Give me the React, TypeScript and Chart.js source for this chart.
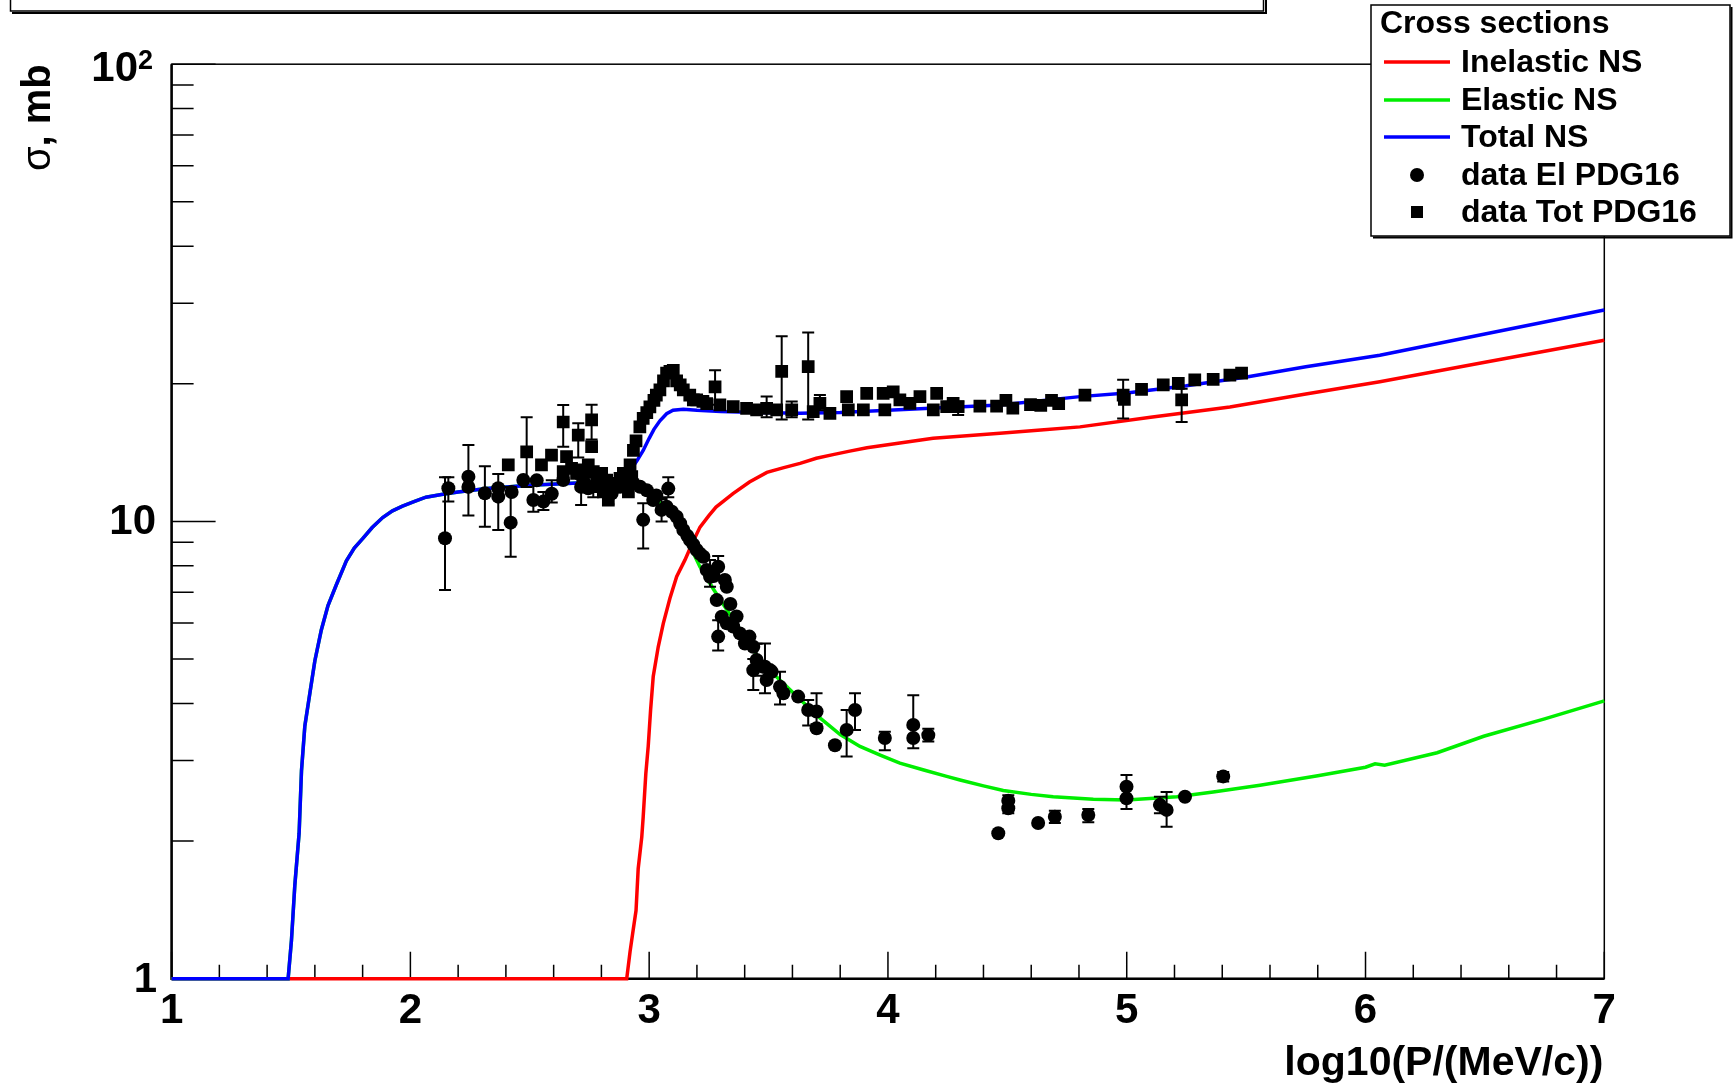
import React, { useEffect, useRef } from "react";
import { Chart, registerables } from "chart.js";

Chart.register(...registerables);

const W = 1736;
const H = 1089;
const FONT = "'Liberation Sans', Arial, Helvetica, sans-serif";

// ---- axis ranges and tick labels ----
const xMin = 1;
const xMax = 7;
const yMin = 1;
const yMax = 100;
const xMajorTicks = [1, 2, 3, 4, 5, 6, 7];
const xTickLabels = ["1", "2", "3", "4", "5", "6", "7"];
const yMajorTicks = [1, 10, 100];
const yMinorTicks = [2, 3, 4, 5, 6, 7, 8, 9, 20, 30, 40, 50, 60, 70, 80, 90];
const xTitle = "log10(P/(MeV/c))";
const yTitleSymbol = "σ";
const yTitleRest = ", mb";

// ---- legend ----
const legendTitle = "Cross sections";
const legendLabels = ["Inelastic NS", "Elastic NS", "Total NS", "data El PDG16", "data Tot PDG16"];

// ---- model curves ----
const inelX = [1.0, 2.906, 2.92, 2.933, 2.945, 2.954, 2.969, 2.975, 2.986, 2.996, 3.006, 3.017, 3.038, 3.059, 3.087, 3.115, 3.15, 3.18, 3.213, 3.25, 3.28, 3.351, 3.42, 3.493, 3.56, 3.632, 3.7, 3.77, 3.84, 3.912, 4.05, 4.189, 4.33, 4.469, 4.64, 4.804, 5.1, 5.432, 5.75, 6.06, 6.5, 7.0];
const inelY = [1, 1, 1.146, 1.278, 1.41, 1.74, 2.04, 2.26, 2.81, 3.22, 3.87, 4.58, 5.32, 5.98, 6.79, 7.57, 8.24, 8.95, 9.72, 10.3, 10.75, 11.5, 12.2, 12.8, 13.1, 13.4, 13.75, 14.0, 14.25, 14.5, 14.85, 15.2, 15.4, 15.6, 15.85, 16.1, 16.9, 17.8, 19.0, 20.2, 22.3, 24.9];

const totX = [1.0, 1.488, 1.502, 1.516, 1.534, 1.544, 1.558, 1.579, 1.6, 1.627, 1.655, 1.69, 1.732, 1.765, 1.801, 1.84, 1.884, 1.925, 1.967, 2.015, 2.065, 2.13, 2.2, 2.32, 2.5, 2.654, 2.8, 2.88, 2.92, 2.95, 2.975, 3.0, 3.02, 3.045, 3.073, 3.1, 3.143, 3.2, 3.3, 3.45, 3.632, 3.8, 4.0, 4.2, 4.469, 4.804, 5.0, 5.25, 5.502, 5.75, 6.06, 6.5, 7.0];
const totY = [1, 1, 1.215, 1.6, 2.08, 2.85, 3.57, 4.21, 4.96, 5.79, 6.55, 7.27, 8.2, 8.75, 9.18, 9.7, 10.2, 10.55, 10.8, 11.05, 11.3, 11.45, 11.6, 11.8, 12.0, 12.1, 12.2, 12.4, 12.9, 13.6, 14.3, 15.2, 15.9, 16.6, 17.2, 17.5, 17.6, 17.5, 17.4, 17.3, 17.24, 17.3, 17.5, 17.7, 17.98, 18.75, 19.1, 19.8, 20.7, 21.8, 23.1, 25.7, 29.0];

const elasX = [1.0, 1.488, 1.502, 1.516, 1.534, 1.544, 1.558, 1.579, 1.6, 1.627, 1.655, 1.69, 1.732, 1.765, 1.801, 1.84, 1.884, 1.925, 1.967, 2.015, 2.065, 2.13, 2.2, 2.32, 2.5, 2.654, 2.8, 2.88, 2.92, 2.95, 2.975, 3.003, 3.05, 3.1, 3.15, 3.213, 3.27, 3.326, 3.4, 3.464, 3.532, 3.577, 3.65, 3.715, 3.8, 3.883, 3.97, 4.05, 4.15, 4.246, 4.302, 4.4, 4.483, 4.6, 4.692, 4.86, 4.999, 5.21, 5.362, 5.558, 5.8, 6.0, 6.04, 6.08, 6.3, 6.495, 6.75, 7.0];
const elasY = [1, 1, 1.215, 1.6, 2.08, 2.85, 3.57, 4.21, 4.96, 5.79, 6.55, 7.27, 8.2, 8.75, 9.18, 9.7, 10.2, 10.55, 10.8, 11.05, 11.3, 11.45, 11.6, 11.8, 12.0, 12.1, 12.2, 12.3, 12.2, 12.1, 11.9, 11.7, 10.9, 10.3, 9.3, 7.95, 7.1, 6.4, 5.6, 4.98, 4.58, 4.35, 4.0, 3.72, 3.42, 3.22, 3.08, 2.96, 2.86, 2.77, 2.72, 2.64, 2.58, 2.53, 2.5, 2.47, 2.46, 2.5, 2.56, 2.65, 2.78, 2.9, 2.95, 2.93, 3.12, 3.39, 3.7, 4.05];

// ---- elastic data (circles): value, error-bar top, error-bar bottom ----
const elDataX = [2.145, 2.159, 2.243, 2.243, 2.312, 2.368, 2.368, 2.42, 2.424, 2.473, 2.515, 2.529, 2.557, 2.592, 2.64, 2.715, 2.724, 2.745, 2.78, 2.822, 2.843, 2.878, 2.906, 2.934, 2.962, 2.975, 2.99, 3.017, 3.03, 3.052, 3.073, 3.08, 3.095, 3.115, 3.13, 3.143, 3.16, 3.171, 3.185, 3.199, 3.213, 3.227, 3.241, 3.255, 3.27, 3.289, 3.283, 3.289, 3.304, 3.317, 3.325, 3.325, 3.34, 3.352, 3.366, 3.38, 3.401, 3.42, 3.436, 3.45, 3.436, 3.478, 3.485, 3.492, 3.506, 3.513, 3.548, 3.562, 3.624, 3.666, 3.701, 3.701, 3.778, 3.827, 3.862, 3.987, 4.106, 4.106, 4.169, 4.462, 4.504, 4.504, 4.629, 4.699, 4.839, 4.999, 4.999, 5.139, 5.167, 5.244, 5.404];
const elDataY = [9.19, 11.82, 12.53, 11.9, 11.52, 11.82, 11.33, 9.94, 11.6, 12.32, 11.14, 12.3, 11.05, 11.5, 12.32, 11.9, 12.32, 11.82, 12.12, 11.82, 11.52, 11.91, 12.0, 12.12, 11.91, 10.08, 11.7, 11.14, 11.4, 10.6, 10.77, 11.8, 10.5, 10.24, 9.9, 9.58, 9.3, 9.11, 8.9, 8.66, 8.5, 8.37, 7.83, 7.57, 7.6, 7.96, 6.73, 5.6, 6.19, 7.45, 7.2, 5.99, 6.6, 5.89, 6.2, 5.69, 5.41, 5.6, 5.32, 4.98, 4.73, 4.81, 4.81, 4.5, 4.73, 4.69, 4.35, 4.21, 4.14, 3.87, 3.84, 3.53, 3.24, 3.5, 3.87, 3.36, 3.59, 3.36, 3.41, 2.08, 2.45, 2.36, 2.19, 2.26, 2.28, 2.63, 2.48, 2.4, 2.34, 2.5, 2.77];
const elErrHi = [12.5, 12.5, 14.7, null, 13.2, 12.7, null, 11.9, null, null, 12.3, null, 11.6, 12.3, null, 12.4, null, null, null, null, null, null, null, null, null, 10.96, null, null, null, 11.2, null, 12.5, null, null, null, null, null, null, null, null, null, null, null, 8.24, null, 8.4, null, 6.08, null, null, null, null, null, null, null, null, null, null, null, 5.4, 5.0, null, 5.41, null, null, null, 4.69, null, null, 4.07, 4.21, null, null, 3.87, 4.21, 3.47, 4.17, null, 3.52, null, 2.52, null, null, 2.33, 2.35, 2.79, 2.6, 2.5, 2.56, null, 2.83];
const elErrLo = [7.08, 11.05, 10.3, null, 9.74, 9.58, null, 8.37, null, null, 10.5, null, 10.6, 11.0, null, 10.87, null, null, null, null, null, null, null, null, null, 8.73, null, null, null, 10.0, null, 11.3, null, null, null, null, null, null, null, null, null, null, null, 7.2, null, 7.6, null, 5.22, null, null, null, null, null, null, null, null, null, null, null, 4.6, 4.28, null, 4.21, null, null, null, 3.98, null, null, 3.58, 3.6, null, null, 3.06, 3.5, 3.16, 3.19, null, 3.3, null, 2.3, null, null, 2.19, 2.2, 2.5, 2.35, 2.3, 2.15, null, 2.7];

// ---- total data (squares): value, error-bar top, error-bar bottom ----
const totDataX = [2.41, 2.487, 2.549, 2.591, 2.64, 2.654, 2.64, 2.675, 2.696, 2.703, 2.724, 2.745, 2.759, 2.759, 2.766, 2.766, 2.78, 2.801, 2.808, 2.822, 2.829, 2.843, 2.864, 2.878, 2.892, 2.906, 2.913, 2.92, 2.927, 2.934, 2.945, 2.961, 2.975, 2.99, 3.003, 3.02, 3.03, 3.045, 3.06, 3.073, 3.087, 3.101, 3.115, 3.13, 3.143, 3.17, 3.185, 3.199, 3.225, 3.241, 3.276, 3.296, 3.352, 3.408, 3.45, 3.492, 3.534, 3.555, 3.597, 3.666, 3.687, 3.715, 3.757, 3.827, 3.834, 3.897, 3.911, 3.98, 3.987, 4.022, 4.05, 4.092, 4.134, 4.19, 4.204, 4.246, 4.273, 4.294, 4.385, 4.455, 4.494, 4.523, 4.597, 4.64, 4.685, 4.715, 4.825, 4.985, 4.99, 5.062, 5.153, 5.216, 5.23, 5.285, 5.362, 5.432, 5.481];
const totDataY = [13.3, 14.2, 13.3, 13.97, 16.5, 13.86, 12.85, 13.07, 12.74, 15.45, 12.96, 13.29, 16.67, 14.57, 12.85, 11.91, 12.53, 12.74, 11.6, 12.32, 11.14, 11.91, 12.12, 12.43, 12.74, 12.64, 11.6, 13.3, 12.53, 14.3, 15.0, 16.1, 16.8, 17.3, 17.8, 18.4, 18.9, 19.4, 20.3, 21.1, 21.3, 21.4, 20.3, 19.9, 19.4, 18.9, 18.44, 18.45, 18.3, 18.1, 19.7, 17.98, 17.82, 17.68, 17.53, 17.68, 17.53, 21.3, 17.53, 21.8, 17.38, 18.13, 17.24, 18.75, 17.53, 17.53, 19.06, 19.06, 17.53, 19.2, 18.44, 18.13, 18.75, 17.53, 19.06, 17.82, 18.13, 17.82, 17.88, 17.88, 18.4, 17.7, 18.0, 17.95, 18.4, 18.1, 18.9, 18.9, 18.5, 19.45, 19.9, 20.05, 18.44, 20.4, 20.45, 20.9, 21.1];
const totErrHi = [null, 16.9, null, null, 17.98, null, null, null, null, 16.4, null, null, 18.0, null, null, 12.5, null, null, null, null, 11.6, null, null, null, null, null, null, null, null, null, null, null, null, null, null, null, null, null, null, null, null, null, null, null, null, null, null, null, null, null, 21.4, null, null, null, null, 18.75, null, 25.4, 18.3, 25.9, null, 18.9, null, null, null, null, null, null, null, null, null, null, null, null, null, null, null, 18.3, null, null, null, null, null, null, null, null, null, 20.4, null, null, null, null, 19.5, null, null, null, null];
const totErrLo = [null, 11.9, null, null, 14.56, null, null, null, null, 13.8, null, null, 15.1, null, null, 11.3, null, null, null, null, 10.9, null, null, null, null, null, null, null, null, null, null, null, null, null, null, null, null, null, null, null, null, null, null, null, null, null, null, null, null, null, 18.0, null, null, null, null, 16.9, null, 16.7, 16.9, 16.7, null, 17.5, null, null, null, null, null, null, null, null, null, null, null, null, null, null, null, 17.1, null, null, null, null, null, null, null, null, null, 16.8, null, null, null, null, 16.5, null, null, null, null];

const colInel = "#ff0000";
const colElas = "#00ee00";
const colTot = "#0000ff";

const toPts = (xs: number[], ys: number[]) => xs.map((x, i) => ({ x, y: ys[i] }));

const errorBarPlugin = {
  id: "errorBars",
  beforeDatasetDraw(chart: any, args: any) {
    const ds = chart.data.datasets[args.index];
    if (!ds.errHi) return;
    const xs = chart.scales.x;
    const ys = chart.scales.y;
    const ctx = chart.ctx;
    ctx.save();
    ctx.strokeStyle = "#000";
    ctx.lineWidth = 2;
    const cap = 6;
    ds.data.forEach((p: any, i: number) => {
      const hi = ds.errHi[i];
      const lo = ds.errLo[i];
      if (hi == null && lo == null) return;
      const px = xs.getPixelForValue(p.x);
      const yT = ys.getPixelForValue(hi != null ? hi : p.y);
      const yB = ys.getPixelForValue(lo != null ? lo : p.y);
      ctx.beginPath();
      ctx.moveTo(px, yT);
      ctx.lineTo(px, yB);
      if (hi != null) {
        ctx.moveTo(px - cap, yT);
        ctx.lineTo(px + cap, yT);
      }
      if (lo != null) {
        ctx.moveTo(px - cap, yB);
        ctx.lineTo(px + cap, yB);
      }
      ctx.stroke();
    });
    ctx.restore();
  },
};

const framePlugin = {
  id: "rootFrame",
  beforeDatasetsDraw(chart: any) {
    const { ctx, chartArea } = chart;
    const xs = chart.scales.x;
    const ys = chart.scales.y;
    const { left, right, top, bottom } = chartArea;
    ctx.save();
    ctx.strokeStyle = "#000";
    // frame
    ctx.lineWidth = 1.5;
    ctx.strokeRect(left, top, right - left, bottom - top);
    ctx.lineWidth = 2.5;
    ctx.beginPath();
    ctx.moveTo(left, top);
    ctx.lineTo(left, bottom);
    ctx.lineTo(right, bottom);
    ctx.stroke();
    // x ticks
    ctx.lineWidth = 1.5;
    ctx.beginPath();
    for (let v = xMin; v <= xMax + 1e-9; v += 0.2) {
      const r = Math.round(v * 10) / 10;
      const major = Math.abs(r - Math.round(r)) < 1e-6;
      const px = xs.getPixelForValue(r);
      const len = major ? 27 : 14;
      ctx.moveTo(px, bottom);
      ctx.lineTo(px, bottom - len);
    }
    // y ticks
    yMajorTicks.forEach((v) => {
      const py = ys.getPixelForValue(v);
      ctx.moveTo(left, py);
      ctx.lineTo(left + 44, py);
    });
    yMinorTicks.forEach((v) => {
      const py = ys.getPixelForValue(v);
      ctx.moveTo(left, py);
      ctx.lineTo(left + 22, py);
    });
    ctx.stroke();

    // tick labels
    ctx.fillStyle = "#000";
    ctx.font = `bold 42px ${FONT}`;
    ctx.textAlign = "center";
    ctx.textBaseline = "alphabetic";
    xMajorTicks.forEach((v, i) => {
      ctx.fillText(xTickLabels[i], xs.getPixelForValue(v), 1023);
    });
    ctx.textAlign = "right";
    ctx.textBaseline = "middle";
    ctx.fillText("1", 157, ys.getPixelForValue(1) + 2);
    ctx.fillText("10", 156, ys.getPixelForValue(10) + 1);
    const p100 = ys.getPixelForValue(100);
    ctx.fillText("10", 138, p100 + 5);
    ctx.font = `bold 27px ${FONT}`;
    ctx.textAlign = "left";
    ctx.fillText("2", 138, p100 - 3);

    // axis titles
    ctx.font = `bold 41px ${FONT}`;
    ctx.textAlign = "right";
    ctx.textBaseline = "alphabetic";
    ctx.fillText(xTitle, right - 1, 1075);

    ctx.save();
    ctx.translate(50, top);
    ctx.rotate(-Math.PI / 2);
    ctx.textAlign = "left";
    ctx.font = `bold 40px ${FONT}`;
    const restW = ctx.measureText(yTitleRest).width;
    ctx.font = `40px ${FONT}`;
    const symW = ctx.measureText(yTitleSymbol).width;
    ctx.fillText(yTitleSymbol, -(restW + symW), 0);
    ctx.font = `bold 40px ${FONT}`;
    ctx.fillText(yTitleRest, -restW, 0);
    ctx.restore();
    ctx.restore();
  },
  afterDraw(chart: any) {
    const { ctx } = chart;
    ctx.save();
    // top title box (its text lies above the visible page)
    ctx.strokeStyle = "#000";
    ctx.lineWidth = 1.5;
    ctx.strokeRect(10.5, -40, 1253, 51);
    ctx.lineWidth = 2;
    ctx.beginPath();
    ctx.moveTo(12, 13);
    ctx.lineTo(1266, 13);
    ctx.lineTo(1266, 0);
    ctx.stroke();

    // legend box
    const bx = 1371, by = 5, bw = 359, bh = 231;
    ctx.fillStyle = "#fff";
    ctx.fillRect(bx, by, bw, bh);
    ctx.lineWidth = 1.5;
    ctx.strokeRect(bx, by, bw, bh);
    ctx.lineWidth = 2;
    ctx.beginPath();
    ctx.moveTo(bx + 2, by + bh + 1.5);
    ctx.lineTo(bx + bw + 1.5, by + bh + 1.5);
    ctx.lineTo(bx + bw + 1.5, by + 2);
    ctx.stroke();

    ctx.fillStyle = "#000";
    ctx.font = `bold 32px ${FONT}`;
    ctx.textAlign = "left";
    ctx.textBaseline = "middle";
    ctx.fillText(legendTitle, 1380, 24);
    const rows = [62, 100, 137, 175, 212];
    const cols = [colInel, colElas, colTot];
    legendLabels.forEach((lab, i) => {
      const y = rows[i];
      if (i < 3) {
        ctx.strokeStyle = cols[i];
        ctx.lineWidth = 3.5;
        ctx.beginPath();
        ctx.moveTo(1384, y);
        ctx.lineTo(1450, y);
        ctx.stroke();
      } else if (i === 3) {
        ctx.beginPath();
        ctx.arc(1417, y, 7, 0, Math.PI * 2);
        ctx.fill();
      } else {
        ctx.fillRect(1411, y - 6, 12, 12);
      }
      ctx.fillStyle = "#000";
      ctx.fillText(lab, 1461, y + 1);
    });
    ctx.restore();
  },
};

export default function App() {
  const ref = useRef<HTMLCanvasElement>(null);
  useEffect(() => {
    if (!ref.current) return;
    const lineDs = (label: string, xs: number[], ys: number[], color: string, order: number) => ({
      type: "line" as const,
      label,
      data: toPts(xs, ys),
      borderColor: color,
      backgroundColor: color,
      borderWidth: 3.5,
      pointRadius: 0,
      tension: 0,
      showLine: true,
      clip: false as any,
      order,
    });
    const chart = new Chart(ref.current, {
      type: "scatter",
      data: {
        datasets: [
          lineDs("Inelastic NS", inelX, inelY, colInel, 4),
          lineDs("Elastic NS", elasX, elasY, colElas, 3),
          lineDs("Total NS", totX, totY, colTot, 2),
          {
            label: "data El PDG16",
            data: toPts(elDataX, elDataY),
            pointStyle: "circle",
            pointRadius: 7,
            backgroundColor: "#000",
            borderColor: "#000",
            borderWidth: 0,
            showLine: false,
            order: 1,
            errHi: elErrHi,
            errLo: elErrLo,
          } as any,
          {
            label: "data Tot PDG16",
            data: toPts(totDataX, totDataY),
            pointStyle: "rect",
            pointRadius: 9,
            backgroundColor: "#000",
            borderColor: "#000",
            borderWidth: 0,
            showLine: false,
            order: 1,
            errHi: totErrHi,
            errLo: totErrLo,
          } as any,
        ],
      },
      options: {
        responsive: false,
        maintainAspectRatio: false,
        devicePixelRatio: 1,
        animation: false,
        layout: { padding: { left: 171.6, right: W - 1604.3, top: 64.2, bottom: H - 978.7 } },
        scales: {
          x: { type: "linear", min: xMin, max: xMax, display: false },
          y: { type: "logarithmic", min: yMin, max: yMax, display: false },
        },
        plugins: {
          legend: { display: false },
          tooltip: { enabled: false },
          title: { display: false },
        },
        events: [],
      },
      plugins: [framePlugin, errorBarPlugin],
    } as any);
    return () => chart.destroy();
  }, []);
  return (
    <div style={{ position: "absolute", left: 0, top: 0, width: W, height: H, background: "#fff" }}>
      <canvas ref={ref} width={W} height={H} style={{ display: "block", width: W, height: H }} />
    </div>
  );
}
